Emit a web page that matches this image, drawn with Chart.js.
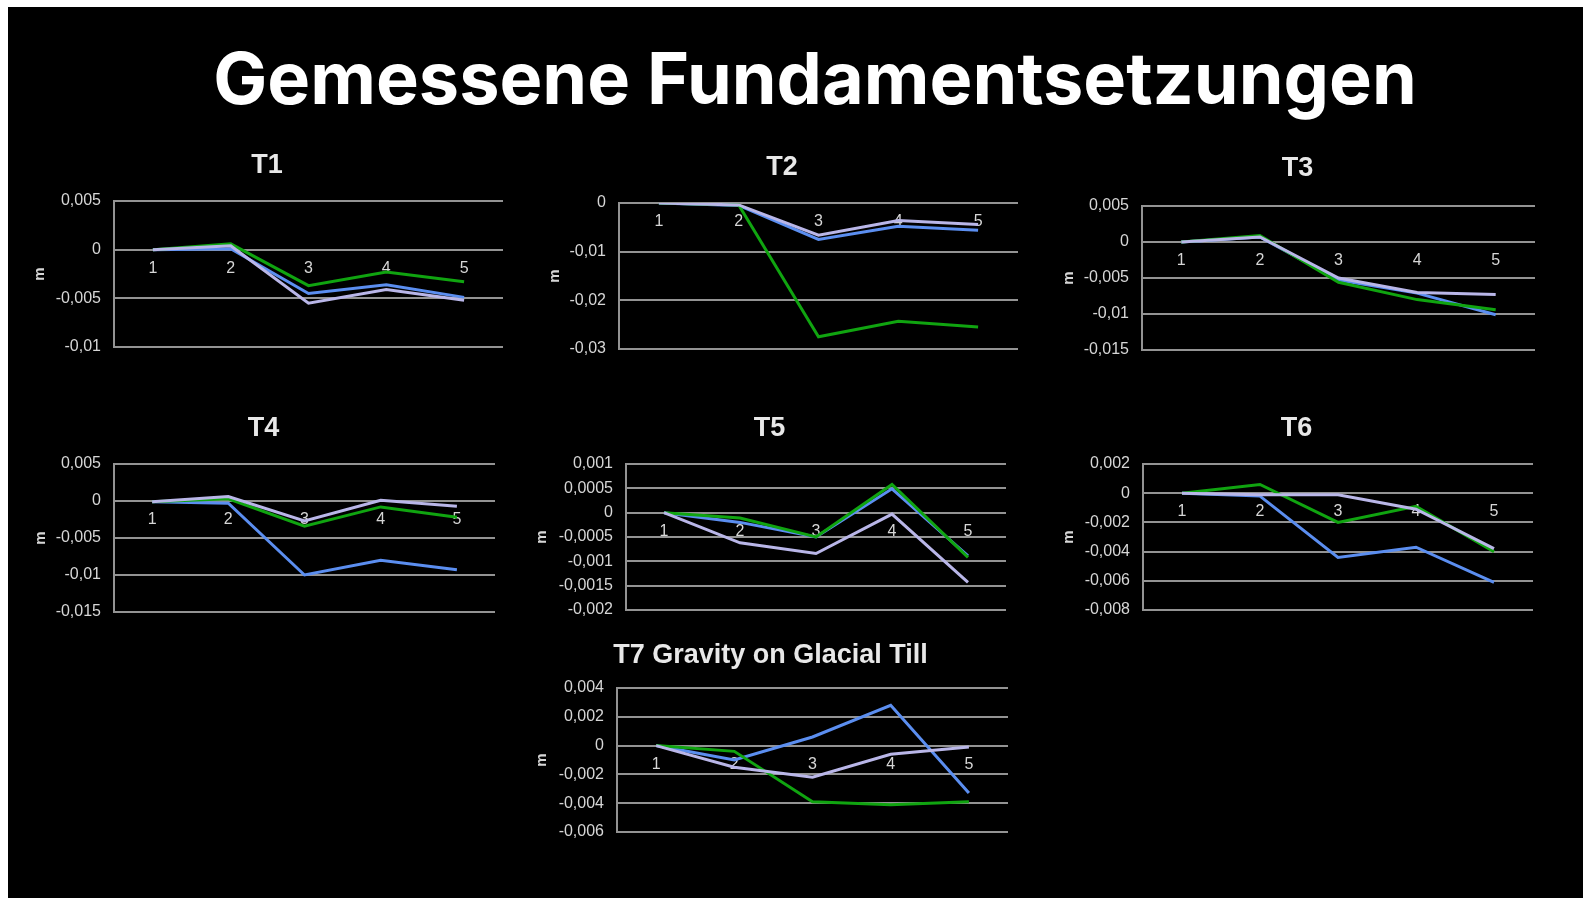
<!DOCTYPE html>
<html lang="de">
<head>
<meta charset="utf-8">
<title>Gemessene Fundamentsetzungen</title>
<script src="https://cdn.jsdelivr.net/npm/chart.js@4.4.0/dist/chart.umd.min.js"></script>
<style>
  html, body { margin: 0; padding: 0; background: #fff; }
  body { width: 1583px; height: 898px; position: relative; overflow: hidden; }
  #slide { position: absolute; left: 8px; top: 7px; right: 0; bottom: 0; background: #000; }
  h1 {
    position: absolute; left: 115px; top: 42px; width: 1400px; margin: 0;
    text-align: center; font: 700 72px/1 Inter, "Noto Sans", sans-serif; color: #fff;
  }
  canvas { position: absolute; }
</style>
</head>
<body>
<div id="slide"></div>
<h1>Gemessene Fundamentsetzungen</h1>
<script>
const categories = ['1', '2', '3', '4', '5'];

const t1Ticks = [0.005, 0, -0.005, -0.01];
const t1Blue = [0, 0.0001, -0.0045, -0.0036, -0.0049];
const t1Green = [0, 0.0006, -0.0037, -0.0023, -0.0033];
const t1Lilac = [0, 0.0004, -0.0055, -0.0041, -0.0052];

const t2Ticks = [0, -0.01, -0.02, -0.03];
const t2Blue = [0, -0.0005, -0.0075, -0.0048, -0.0056];
const t2Green = [0, -0.0004, -0.0275, -0.0243, -0.0255];
const t2Lilac = [0, -0.0004, -0.0066, -0.0036, -0.0044];

const t3Ticks = [0.005, 0, -0.005, -0.01, -0.015];
const t3Blue = [0, 0.0007, -0.0053, -0.0071, -0.0101];
const t3Green = [0, 0.0009, -0.0056, -0.008, -0.0094];
const t3Lilac = [0, 0.0007, -0.005, -0.007, -0.0073];

const t4Ticks = [0.005, 0, -0.005, -0.01, -0.015];
const t4Blue = [-0.0001, -0.0003, -0.01, -0.008, -0.0093];
const t4Green = [-0.0001, 0.0003, -0.0034, -0.0008, -0.0022];
const t4Lilac = [-0.0001, 0.0006, -0.0027, 0.0001, -0.0007];

const t5Ticks = [0.001, 0.0005, 0, -0.0005, -0.001, -0.0015, -0.002];
const t5Blue = [0, -0.0002, -0.0005, 0.00049, -0.00089];
const t5Green = [0, -0.00011, -0.0005, 0.00058, -0.00092];
const t5Lilac = [0, -0.00062, -0.00084, -0.00003, -0.00143];

const t6Ticks = [0.002, 0, -0.002, -0.004, -0.006, -0.008];
const t6Blue = [0, -0.0002, -0.0044, -0.0037, -0.0061];
const t6Green = [0, 0.0006, -0.002, -0.0009, -0.004];
const t6Lilac = [0, -0.0001, -0.0001, -0.0011, -0.0038];

const t7Ticks = [0.004, 0.002, 0, -0.002, -0.004, -0.006];
const t7Blue = [0, -0.001, 0.0006, 0.0028, -0.0033];
const t7Green = [0, -0.0004, -0.0039, -0.0041, -0.0039];
const t7Lilac = [0, -0.0015, -0.0022, -0.0006, -0.0001];

const charts = [
  { title: 'T1', ticks: t1Ticks, blue: t1Blue, green: t1Green, lilac: t1Lilac },
  { title: 'T2', ticks: t2Ticks, blue: t2Blue, green: t2Green, lilac: t2Lilac },
  { title: 'T3', ticks: t3Ticks, blue: t3Blue, green: t3Green, lilac: t3Lilac },
  { title: 'T4', ticks: t4Ticks, blue: t4Blue, green: t4Green, lilac: t4Lilac },
  { title: 'T5', ticks: t5Ticks, blue: t5Blue, green: t5Green, lilac: t5Lilac },
  { title: 'T6', ticks: t6Ticks, blue: t6Blue, green: t6Green, lilac: t6Lilac },
  { title: 'T7 Gravity on Glacial Till', ticks: t7Ticks, blue: t7Blue, green: t7Green, lilac: t7Lilac }
];

// where each panel sits: title centre, plot box, centre of the "m"
const frames = [
  { cx: 263, ty: 165, left: 114, right: 503, top: 201, bottom: 347, mx: 40 },
  { cx: 780, ty: 167, left: 619, right: 1018, top: 203, bottom: 349, mx: 555 },
  { cx: 1298, ty: 168, left: 1142, right: 1535, top: 206, bottom: 350, mx: 1069 },
  { cx: 261, ty: 428, left: 114, right: 495, top: 464, bottom: 612, mx: 41 },
  { cx: 767, ty: 428, left: 626, right: 1006, top: 464, bottom: 610, mx: 542 },
  { cx: 1296, ty: 428, left: 1143, right: 1533, top: 464, bottom: 610, mx: 1069 },
  { cx: 773, ty: 655, left: 617, right: 1008, top: 688, bottom: 832, mx: 542 }
];

const FONT = '"Liberation Sans", Arial, sans-serif';
const GRID = '#939393';
const TEXT = '#d6d6d6';
const titleSize = 27;
const titleLH = titleSize * 1.2;
const mSize = 15;

const fmt = v => String(+v.toFixed(6)).replace('.', ',');

charts.forEach((c, i) => {
  const f = frames[i];
  const R = f.right + 4;
  const L = 2 * f.cx - R;
  const T = Math.round(f.ty - titleLH / 2 - 2);
  const B = f.bottom + 14;
  const padLeft = f.mx - (mSize * 1.2) / 2 - L;
  const yWidth = f.left - L - padLeft;

  const canvas = document.createElement('canvas');
  canvas.width = R - L;
  canvas.height = B - T;
  canvas.style.left = L + 'px';
  canvas.style.top = T + 'px';
  document.body.appendChild(canvas);

  const sorted = [...c.ticks].sort((a, b) => a - b);

  const cfg = {
    type: 'line',
    data: {
      labels: categories,
      datasets: [
        { label: 'Reihe 3', data: c.lilac, borderColor: '#b9b6e8' },
        { label: 'Reihe 2', data: c.green, borderColor: '#10a410' },
        { label: 'Reihe 1', data: c.blue, borderColor: '#5b8ef0' }
      ].map(d => Object.assign(d, { borderWidth: 3, pointRadius: 0, tension: 0, fill: false }))
    },
    options: {
      responsive: false,
      animation: false,
      devicePixelRatio: 1,
      layout: { padding: { top: 2, right: 4, bottom: 14, left: padLeft } },
      plugins: {
        legend: { display: false },
        tooltip: { enabled: false },
        title: {
          display: true,
          text: c.title,
          color: '#e8e8e8',
          font: { family: FONT, size: titleSize, weight: 'bold', lineHeight: 1.2 },
          padding: { top: 0, bottom: f.top - (T + 2 + titleLH) }
        }
      },
      scales: {
        x: {
          type: 'category',
          offset: true,
          position: { y: 0 },
          grid: { display: false, drawTicks: false, tickLength: 0 },
          border: { display: false },
          ticks: { color: TEXT, font: { family: FONT, size: 16 }, padding: 9, maxRotation: 0 }
        },
        y: {
          min: sorted[0],
          max: sorted[sorted.length - 1],
          afterBuildTicks: s => { s.ticks = sorted.map(v => ({ value: v })); },
          afterFit: s => {
            s.width = yWidth;
            // labels may overhang the plot box, the canvas has room for them
            s.paddingTop = 0;
            s.paddingBottom = 0;
          },
          grid: { color: GRID, lineWidth: 2, drawTicks: false, tickLength: 0 },
          border: { display: true, color: GRID, width: 2 },
          ticks: {
            color: TEXT,
            font: { family: FONT, size: 16 },
            padding: 13,
            autoSkip: false,
            callback: v => fmt(v)
          },
          title: {
            display: true,
            text: 'm',
            color: TEXT,
            font: { family: FONT, size: mSize, weight: 'bold', lineHeight: 1.2 },
            padding: 0
          }
        }
      }
    }
  };

  const chart = new Chart(canvas, cfg);

  // nudge the paddings so the plot box lands exactly on the frame
  const ca = chart.chartArea;
  cfg.options.layout.padding.bottom += ca.bottom - (f.bottom - T);
  cfg.options.plugins.title.padding.bottom += (f.top - T) - ca.top;
  chart.update();
});
</script>
</body>
</html>
